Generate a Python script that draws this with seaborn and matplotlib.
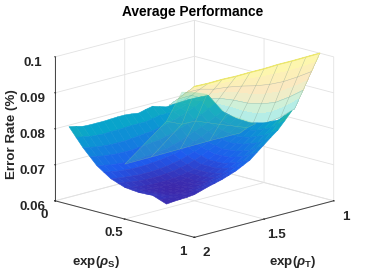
import matplotlib

matplotlib.use("Agg")

import matplotlib.pyplot as plt
import numpy as np
import seaborn as sns

# valores (taxa de erro em unidades de 1e-4)
exp_rho_s = [0.1, 0.15, 0.2, 0.25, 0.3, 0.35, 0.4, 0.45, 0.5, 0.55, 0.6, 0.65, 0.7, 0.75, 0.8]
exp_rho_t = [2.0, 1.95, 1.9, 1.85, 1.8, 1.75, 1.7, 1.65, 1.6, 1.55,
             1.5, 1.45, 1.4, 1.35, 1.3, 1.25, 1.2, 1.15, 1.1]
error_body = [
    [816, 792, 768, 748, 728, 715, 702, 695, 688, 686, 684, 685, 686, 679, 672],
    [812, 788, 764, 744, 724, 712, 699, 692, 684, 682, 680, 680, 681, 678, 674],
    [807, 784, 760, 740, 720, 708, 696, 688, 680, 678, 676, 676, 676, 676, 675],
    [806, 782, 758, 738, 718, 706, 694, 686, 678, 676, 674, 674, 674, 676, 676],
    [806, 781, 756, 736, 716, 704, 692, 684, 676, 674, 672, 672, 672, 675, 678],
    [806, 782, 756, 736, 716, 704, 692, 684, 676, 674, 672, 673, 674, 679, 684],
    [807, 782, 756, 736, 716, 704, 692, 684, 676, 674, 672, 674, 676, 683, 690],
    [808, 783, 758, 738, 718, 706, 694, 686, 678, 676, 674, 677, 680, 688, 695],
    [808, 784, 760, 740, 720, 708, 696, 688, 680, 678, 676, 680, 684, 692, 700],
    [806, 784, 762, 742, 722, 711, 700, 692, 684, 683, 682, 686, 690, 698, 707],
    [803, 784, 764, 744, 724, 714, 704, 696, 688, 688, 688, 692, 696, 705, 714],
    [808, 788, 768, 749, 730, 720, 710, 703, 696, 696, 696, 701, 706, 715, 724],
    [812, 792, 772, 754, 736, 726, 716, 710, 704, 704, 704, 710, 716, 725, 734],
    [806, 792, 778, 761, 744, 734, 724, 719, 714, 715, 716, 722, 728, 739, 750],
    [800, 792, 784, 768, 752, 742, 732, 728, 724, 726, 728, 734, 740, 753, 766],
    [802, 797, 792, 776, 760, 752, 744, 740, 736, 739, 742, 749, 756, 769, 782],
    [803, 802, 800, 784, 768, 762, 756, 752, 748, 752, 756, 764, 772, 785, 797],
    [804, 808, 811, 795, 778, 772, 767, 764, 762, 766, 771, 780, 788, 804, 818],
    [804, 813, 822, 805, 788, 783, 778, 777, 776, 781, 786, 795, 804, 822, 840],
]

flap_s = [0.0, 0.1, 0.2, 0.3, 0.4, 0.5, 0.6, 0.7, 0.8, 0.9]
flap_t = [1.18, 1.15, 1.12, 1.09, 1.06, 1.03, 1.0]
error_flap = [
    [782, 804, 792, 802, 799, 792, 792, 804, 831, 864],
    [788, 809, 803, 814, 815, 813, 816, 830, 856, 887],
    [793, 814, 813, 826, 831, 833, 841, 855, 880, 909],
    [799, 820, 824, 839, 848, 854, 865, 881, 905, 932],
    [805, 825, 835, 851, 864, 875, 889, 907, 930, 955],
    [810, 830, 845, 863, 880, 895, 914, 932, 954, 977],
    [816, 835, 856, 875, 896, 916, 938, 958, 979, 1000],
]
flap_colors = ["#B5EDE6", "#CFF0D8", "#EFEDC8", "#FBE9C0", "#FCEFB8", "#FDF6AE"]

# parte translucida que passa na frente da superficie
wedge_s = [
    [0.00, 0.19, 0.40, 0.61, 0.83],
    [0.05, 0.16, 0.26, 0.43, 0.63],
    [0.05, 0.14, 0.23, 0.37, 0.58],
]
wedge_t = [
    [1.5, 1.5, 1.5, 1.5, 1.5],
    [1.25, 1.25, 1.25, 1.25, 1.25],
    [1.14, 1.14, 1.14, 1.14, 1.14],
]
error_wedge = [
    [651, 690, 734, 778, 822],
    [750, 753, 772, 780, 791],
    [820, 828, 832, 791, 786],
]

x_ticks = [0, 0.5, 1]
x_tick_labels = ["0", "0.5", "1"]
y_ticks = [1, 1.5, 2]
y_tick_labels = ["1", "1.5", "2"]
z_ticks = [0.06, 0.07, 0.08, 0.09, 0.1]
z_tick_labels = ["0.06", "0.07", "0.08", "0.09", "0.1"]

parula_colors = ["#3E26A8", "#1E5BEE", "#1282DC", "#08A4CC", "#2BB9A0",
                 "#8CC06E", "#DDBB4C", "#FDC634", "#F9FB15"]

sns.set_style("white")
plt.rcParams["font.family"] = ["Liberation Sans", "DejaVu Sans"]
plt.rcParams["font.weight"] = "bold"
plt.rcParams["mathtext.fontset"] = "custom"
plt.rcParams["mathtext.rm"] = "Liberation Sans:bold"
plt.rcParams["mathtext.it"] = "Liberation Sans:italic"
plt.rcParams["mathtext.bf"] = "Liberation Sans:bold"

parula = sns.blend_palette(parula_colors, n_colors=256, as_cmap=True)
norm = matplotlib.colors.Normalize(vmin=0.067, vmax=0.1)

fig = plt.figure(figsize=(3.66, 2.74), dpi=100)
ax = fig.add_axes([-0.03, -0.035, 1.1, 1.1], projection="3d", proj_type="ortho",
                  computed_zorder=False)
ax.view_init(elev=15.2, azim=-45)
ax.set_box_aspect((1, 1, 0.757), zoom=1.018)

# aba de tras
X, Y = np.meshgrid(flap_s, flap_t)
Z = np.array(error_flap) * 1e-4
face = np.array([[matplotlib.colors.to_rgba(c)] * (len(flap_s) - 1) for c in flap_colors])
flap = ax.plot_surface(X, Y, Z, facecolors=face, shade=False, rstride=1, cstride=1,
                       linewidth=0, antialiased=False, zorder=1)
ax.plot_wireframe(X, Y, Z, rstride=2, cstride=1, color="#7F9A8A", linewidth=0.35,
                  alpha=0.55, zorder=1.5)
ax.plot(flap_s, [flap_t[-1]] * len(flap_s), Z[-1], color="#EDE86A", linewidth=0.9, zorder=1.6)

# superficie principal
X, Y = np.meshgrid(exp_rho_s, exp_rho_t)
body = ax.plot_surface(X, Y, np.array(error_body) * 1e-4, cmap=parula, norm=norm, shade=False,
                       rstride=1, cstride=1, linewidth=0.4, zorder=2)
body.set_edgecolor("face")

# cunha translucida
Xw, Yw, Zw = np.array(wedge_s), np.array(wedge_t), np.array(error_wedge) * 1e-4
ax.plot_surface(Xw, Yw, Zw, color="#45CCA0", shade=False, rstride=1, cstride=1,
                alpha=0.28, linewidth=0, zorder=3)
ax.plot_wireframe(Xw, Yw, Zw, rstride=1, cstride=1, color="#A8D890", linewidth=0.3,
                  alpha=0.45, zorder=3.5)

ax.set_xlim(0, 1)
ax.set_ylim(2, 1)
ax.set_zlim(0.06, 0.1)
ax.set_xticks(x_ticks, x_tick_labels)
ax.set_yticks(y_ticks, y_tick_labels)
ax.set_zticks(z_ticks, z_tick_labels)
ax.tick_params(labelsize=9.6, colors="#262626")
ax.tick_params(axis="x", pad=1)
ax.tick_params(axis="y", pad=2)
ax.tick_params(axis="z", pad=1)
for label in ax.get_xticklabels() + ax.get_yticklabels():
    label.set_verticalalignment("center")

for axis in (ax.xaxis, ax.yaxis, ax.zaxis):
    axis.set_pane_color((1, 1, 1, 0))
    axis.pane.set_edgecolor((1, 1, 1, 0))
    axis._axinfo["grid"].update(color="#E2E2E2", linewidth=0.6)
    axis._axinfo["tick"].update(inward_factor=0.05, outward_factor=0.03)
    axis._axinfo["axisline"]["color"] = "#444444"
    axis._axinfo["axisline"]["linewidth"] = 0.7
    axis.line.set_color("#444444")
    axis.line.set_linewidth(0.7)
ax.zaxis._axinfo["juggled"] = (1, 2, 0)

fig.text(0.525, 0.955, "Average Performance", ha="center", va="center",
         fontsize=9.9, fontweight="bold", color="black")
fig.text(0.033, 0.51, "Error Rate (%)", rotation=90, ha="center", va="center",
         fontsize=9.6, color="#262626")
fig.text(0.262, 0.044, r"exp($\rho_{\mathrm{S}}$)", ha="center", va="center",
         fontsize=9.6, color="#262626")
fig.text(0.80, 0.044, r"exp($\rho_{\mathrm{T}}$)", ha="center", va="center",
         fontsize=9.6, color="#262626")

fig.savefig("out.png", dpi=100)
plt.close(fig)
